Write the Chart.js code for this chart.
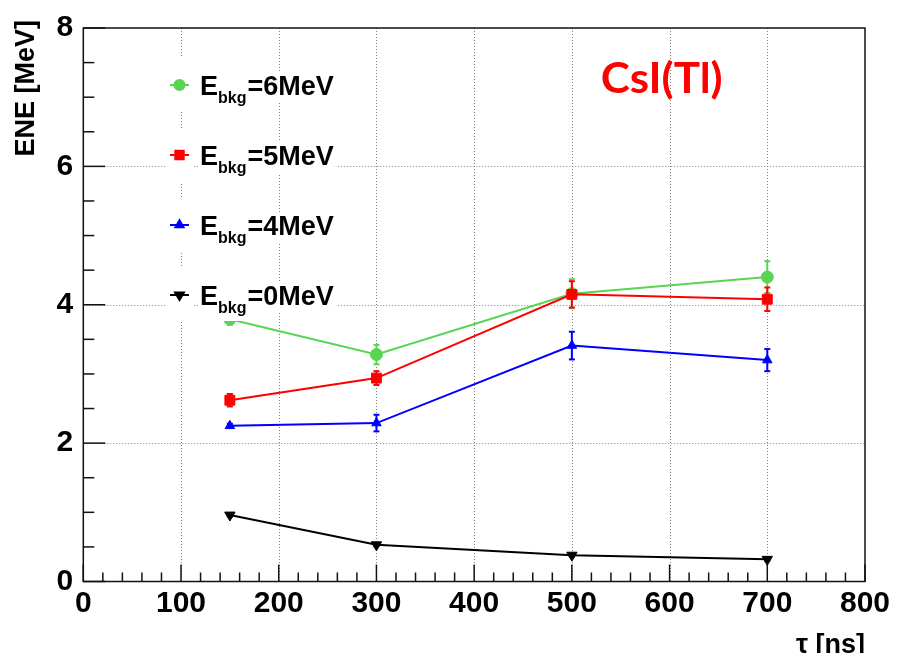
<!DOCTYPE html>
<html><head><meta charset="utf-8">
<script src="https://cdn.jsdelivr.net/npm/chart.js@4.4.1/dist/chart.umd.min.js"></script>
<style>html,body{margin:0;padding:0;background:#fff;}canvas{display:block;}</style>
</head><body>
<canvas id="c" width="897" height="653"></canvas>
<script>
// ---- data ----
const tau = [150, 300, 500, 700];
const ene6 = [3.79, 3.28, 4.16, 4.40];
const err6 = [0.08, 0.14, 0.21, 0.23];
const ene5 = [2.62, 2.94, 4.15, 4.08];
const err5 = [0.09, 0.10, 0.19, 0.17];
const ene4 = [2.25, 2.29, 3.41, 3.20];
const err4 = [0.03, 0.12, 0.20, 0.16];
const ene0 = [0.96, 0.53, 0.38, 0.32];
const err0 = [0.02, 0.02, 0.02, 0.02];
const legendValues = ['6MeV', '5MeV', '4MeV', '0MeV'];
const xTickLabels = [0, 100, 200, 300, 400, 500, 600, 700, 800];
const yTickLabels = [0, 2, 4, 6, 8];
const xTitle = 'τ [ns]';
const yTitle = 'ENE [MeV]';
const tag = 'CsI(Tl)';

// ---- styles ----
const GREEN = 'rgb(89,212,84)', RED = '#ff0000', BLUE = '#0000ff', BLACK = '#000000';
const styles = {
  '6MeV': {color: GREEN, pointStyle: 'circle', radius: 6, rotation: 0},
  '5MeV': {color: RED, pointStyle: 'rect', radius: 7, rotation: 0},
  '4MeV': {color: BLUE, pointStyle: 'triangle', radius: 5.5, rotation: 0},
  '0MeV': {color: BLACK, pointStyle: 'triangle', radius: 6, rotation: 180}
};
const seriesVals = {'6MeV': ene6, '5MeV': ene5, '4MeV': ene4, '0MeV': ene0};
const seriesErrs = {'6MeV': err6, '5MeV': err5, '4MeV': err4, '0MeV': err0};
// drawing order: index 0 on top -> black, blue, red, green
const drawOrder = ['0MeV', '4MeV', '5MeV', '6MeV'];

const FONT = '"Liberation Sans", Arial, Helvetica, sans-serif';

const datasets = drawOrder.map(k => {
  const s = styles[k];
  return {
    label: k,
    data: tau.map((t, i) => ({x: t, y: seriesVals[k][i]})),
    errs: seriesErrs[k],
    borderColor: s.color, backgroundColor: s.color,
    borderWidth: 2, tension: 0, fill: false,
    pointStyle: s.pointStyle, pointRadius: s.radius, pointRotation: s.rotation,
    pointBorderWidth: 1, pointBackgroundColor: s.color, pointBorderColor: s.color
  };
});

function line(ctx, x1, y1, x2, y2) { ctx.beginPath(); ctx.moveTo(x1, y1); ctx.lineTo(x2, y2); ctx.stroke(); }

const rootPlugin = {
  id: 'rootStyle',
  beforeDatasetsDraw(chart) {
    const {ctx, chartArea: a, scales: {x, y}} = chart;
    ctx.save();
    // grid
    ctx.strokeStyle = '#808080'; ctx.lineWidth = 1; ctx.setLineDash([1, 2]);
    xTickLabels.forEach(v => {
      if (v <= x.min || v >= x.max) return;
      const p = Math.round(x.getPixelForValue(v)) + 0.5;
      line(ctx, p, a.top, p, a.bottom);
    });
    yTickLabels.forEach(v => {
      if (v <= y.min || v >= y.max) return;
      const p = Math.round(y.getPixelForValue(v)) + 0.5;
      line(ctx, a.left, p, a.right, p);
    });
    ctx.setLineDash([]);
    // ticks
    ctx.strokeStyle = '#111'; ctx.lineWidth = 1.5;
    for (let v = x.min; v <= x.max + 1e-6; v += 20) {
      const p = x.getPixelForValue(v);
      const major = Math.abs(v % 100) < 1e-6;
      line(ctx, p, a.bottom, p, a.bottom - (major ? 17 : 9));
    }
    for (let v = y.min; v <= y.max + 1e-6; v += 0.5) {
      const p = y.getPixelForValue(v);
      const major = Math.abs(v % 2) < 1e-6;
      line(ctx, a.left, p, a.left + (major ? 22 : 11), p);
    }
    // frame
    ctx.strokeStyle = '#111'; ctx.lineWidth = 1.5;
    ctx.strokeRect(a.left, a.top, a.right - a.left, a.bottom - a.top);
    ctx.restore();
  },
  afterDatasetDraw(chart, args) {
    const {ctx, scales: {x, y}} = chart;
    const ds = chart.data.datasets[args.index];
    ctx.save();
    ctx.strokeStyle = ds.borderColor; ctx.lineWidth = 2;
    ds.data.forEach((pt, i) => {
      const e = ds.errs[i];
      const px = x.getPixelForValue(pt.x);
      const yt = y.getPixelForValue(pt.y + e), yb = y.getPixelForValue(pt.y - e);
      line(ctx, px, yt, px, yb);
      line(ctx, px - 3, yt, px + 3, yt);
      line(ctx, px - 3, yb, px + 3, yb);
    });
    ctx.restore();
  },
  afterDraw(chart) {
    const {ctx, chartArea: a} = chart;
    ctx.save();
    // legend
    legendValues.forEach((k, i) => {
      const cy = 85 + i * 70;
      const s = styles[k];
      ctx.font = 'bold 27px ' + FONT;
      const wE = ctx.measureText('E').width;
      const rest = '=' + k;
      const wR = ctx.measureText(rest).width;
      ctx.font = 'bold 16px ' + FONT;
      const wS = ctx.measureText('bkg').width;
      const x0 = 200;
      ctx.fillStyle = '#fff';
      ctx.fillRect(166, cy - 27, 28, 54);
      ctx.fillRect(x0 - 2, cy - 13, wE + wS + wR + 5, 31);
      ctx.fillRect(x0 + wE - 2, cy + 4, wS + 5, 22);
      // marker
      ctx.strokeStyle = s.color; ctx.lineWidth = 2;
      line(ctx, 170, cy, 189, cy);
      ctx.fillStyle = s.color;
      Chart.helpers.drawPoint(ctx, {pointStyle: s.pointStyle, rotation: s.rotation, radius: s.radius * 0.85, borderWidth: 1}, 179.5, cy);
      ctx.fill();
      // text
      ctx.fillStyle = '#000'; ctx.textAlign = 'left'; ctx.textBaseline = 'alphabetic';
      ctx.font = 'bold 27px ' + FONT;
      ctx.fillText('E', x0, cy + 10);
      ctx.font = 'bold 16px ' + FONT;
      ctx.fillText('bkg', x0 + wE, cy + 18);
      ctx.font = 'bold 27px ' + FONT;
      ctx.fillText(rest, x0 + wE + wS + 1, cy + 10);
    });
    // CsI(Tl)
    ctx.font = 'bold 42px Lato, "Open Sans", sans-serif';
    const wt = ctx.measureText(tag).width;
    ctx.save();
    ctx.translate(600.7, 93.3); ctx.scale(122 / wt, 1);
    ctx.fillStyle = '#ff0000'; ctx.textAlign = 'left'; ctx.textBaseline = 'alphabetic';
    ctx.fillText(tag, 0, 0);
    ctx.restore();
    // axis titles
    ctx.fillStyle = '#000';
    ctx.font = 'bold 27px ' + FONT;
    ctx.save();
    ctx.translate(34, 20); ctx.rotate(-Math.PI / 2);
    ctx.textAlign = 'right'; ctx.textBaseline = 'alphabetic';
    ctx.fillText(yTitle, 0, 0);
    ctx.restore();
    ctx.textAlign = 'right'; ctx.textBaseline = 'alphabetic';
    ctx.fillText(xTitle, a.right, 653);
    ctx.restore();
  }
};

new Chart(document.getElementById('c'), {
  type: 'line',
  data: {datasets},
  options: {
    responsive: false, animation: false, devicePixelRatio: 1,
    layout: {padding: {left: 0, top: 21, right: 32, bottom: 0}},
    plugins: {legend: {display: false}, tooltip: {enabled: false}},
    scales: {
      x: {
        type: 'linear', min: 0, max: 800,
        afterBuildTicks: s => { s.ticks = xTickLabels.map(v => ({value: v})); },
        afterFit: s => { s.height = 71.5; },
        grid: {display: false, drawTicks: false}, border: {display: false},
        ticks: {autoSkip: false, maxRotation: 0, padding: 4, color: '#000',
          font: {family: FONT, size: 30, weight: 'bold', lineHeight: 1.2}}
      },
      y: {
        type: 'linear', min: 0, max: 8,
        afterBuildTicks: s => { s.ticks = yTickLabels.map(v => ({value: v})); },
        afterFit: s => { s.width = 83.3; },
        grid: {display: false, drawTicks: false}, border: {display: false},
        ticks: {autoSkip: false, padding: 10, color: '#000',
          font: {family: FONT, size: 30, weight: 'bold', lineHeight: 1.2}}
      }
    }
  },
  plugins: [rootPlugin]
});
</script>
</body></html>
